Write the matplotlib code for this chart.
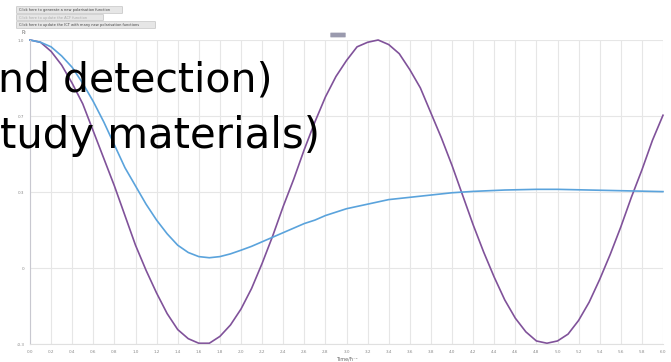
import matplotlib
matplotlib.use("Agg")
import matplotlib.pyplot as plt
from matplotlib.patches import FancyBboxPatch

# ---- data ----
time = [round(0.1 * i, 1) for i in range(61)]
p_oscillating = [
    1.00, 0.99, 0.95, 0.89, 0.81, 0.72, 0.60, 0.48, 0.36, 0.23,
    0.10, -0.01, -0.11, -0.20, -0.27, -0.31, -0.33, -0.33, -0.30, -0.25,
    -0.18, -0.09, 0.02, 0.14, 0.27, 0.39, 0.52, 0.64, 0.75, 0.84,
    0.91, 0.97, 0.99, 1.00, 0.98, 0.94, 0.87, 0.79, 0.68, 0.57,
    0.45, 0.32, 0.19, 0.07, -0.04, -0.14, -0.22, -0.28, -0.32, -0.33,
    -0.32, -0.29, -0.23, -0.15, -0.05, 0.06, 0.18, 0.31, 0.43, 0.56,
    0.67,
]
p_damped = [
    1.00, 0.99, 0.97, 0.93, 0.88, 0.81, 0.73, 0.64, 0.54, 0.44,
    0.36, 0.28, 0.21, 0.15, 0.10, 0.068, 0.05, 0.045, 0.05, 0.062,
    0.078, 0.095, 0.115, 0.135, 0.155, 0.175, 0.195, 0.21, 0.23, 0.245,
    0.26, 0.27, 0.28, 0.29, 0.30, 0.305, 0.31, 0.315, 0.32, 0.325,
    0.33, 0.333, 0.336, 0.338, 0.34, 0.342, 0.343, 0.344, 0.345, 0.345,
    0.345, 0.344, 0.343, 0.342, 0.341, 0.34, 0.339, 0.338, 0.337, 0.336,
    0.335,
]
x_ticks = [round(0.2 * i, 1) for i in range(31)]
x_tick_labels = [f"{v:.1f}" for v in x_ticks]
y_ticks = [-1/3, 0, 1/3, 2/3, 1.0]
y_tick_labels = ["-0.3", "0", "0.3", "0.7", "1.0"]
buttons = [
    "Click here to generate a new polarisation function",
    "Click here to update the ACF function",
    "Click here to update the ICT with many new polarisation functions",
]

W, H = 671, 362
fig = plt.figure(figsize=(W / 100, H / 100), dpi=100)
fig.patch.set_facecolor("white")

ax = fig.add_axes([30 / W, 1 - 344 / H, 633 / W, 304 / H])
ax.set_xlim(0, 6)
ax.set_ylim(-1/3, 1)
ax.set_xticks(x_ticks)
ax.set_xticklabels(x_tick_labels, fontsize=3, color="#888888")
ax.set_yticks(y_ticks)
ax.set_yticklabels(y_tick_labels, fontsize=3, color="#888888")
ax.tick_params(length=0, pad=4)
ax.grid(True, color="#e6e6e6", linewidth=0.8)
for s in ["top", "right"]:
    ax.spines[s].set_visible(False)
ax.spines["left"].set_color("#c8c8d0")
ax.spines["bottom"].set_color("#e0e0e0")
ax.set_axisbelow(True)

ax.plot(time, p_oscillating, color="#80529a", linewidth=1.2, clip_on=False)
ax.plot(time, p_damped, color="#5aa3dc", linewidth=1.2, clip_on=False)

ax.set_xlabel("Time/ħ⁻¹", fontsize=3.5, color="#666666", labelpad=2)
fig.text(22 / W, 1 - 33 / H, "P₂", fontsize=3.5, color="#666666", ha="left", va="center")

# legend marker
fig.patches.append(FancyBboxPatch((331 / W, 1 - 37 / H), 14 / W, 4 / H,
                                  boxstyle="round,pad=0.001", transform=fig.transFigure,
                                  facecolor="#9a9aae", edgecolor="none"))

# buttons
btn_geom = [(17, 7, 105, 6, "#444444"), (17, 15, 86, 5, "#aaaaaa"), (17, 22, 138, 6, "#444444")]
for (bx, by, bw, bh, tc), label in zip(btn_geom, buttons):
    fig.patches.append(FancyBboxPatch((bx / W, 1 - (by + bh) / H), bw / W, bh / H,
                                      boxstyle="round,pad=0.001", transform=fig.transFigure,
                                      facecolor="#e6e6e6", edgecolor="#b8b8b8", linewidth=0.4))
    fig.text((bx + 2) / W, 1 - (by + bh / 2) / H, label, fontsize=2.6, color=tc,
             ha="left", va="center")

# overlaid large text
fig.text(-2 / W, 1 - 91 / H, "nd detection)", fontsize=29.5, color="black",
         family="DejaVu Sans", ha="left", va="baseline")
fig.text(0 / W, 1 - 148 / H, "tudy materials)", fontsize=30.2, color="black",
         family="DejaVu Sans", ha="left", va="baseline")

fig.savefig("out.png", dpi=100)
